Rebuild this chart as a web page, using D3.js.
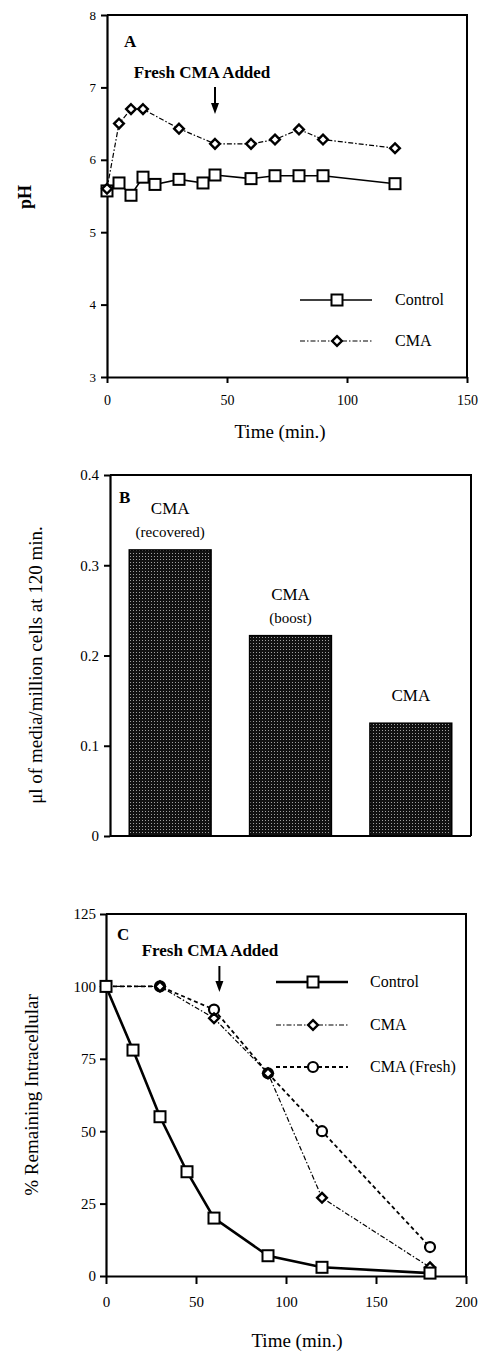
<!DOCTYPE html>
<html>
<head>
<meta charset="utf-8">
<script src="https://cdn.jsdelivr.net/npm/d3@7"></script>
<style>
  body { margin: 0; background: #fff; }
  svg text { font-family: "Liberation Serif", "DejaVu Serif", serif; fill: #000; }
</style>
</head>
<body>
<div id="chart"></div>
<script>
// Panel A : pH over time
var timeCtrlA = [0, 5, 10, 15, 20, 30, 40, 45, 60, 70, 80, 90, 120];
var phControl = [5.57, 5.68, 5.51, 5.76, 5.66, 5.73, 5.68, 5.79, 5.74, 5.78, 5.78, 5.78, 5.67];
var timeCmaA = [0, 5, 10, 15, 30, 45, 60, 70, 80, 90, 120];
var phCma = [5.6, 6.5, 6.7, 6.7, 6.43, 6.22, 6.22, 6.28, 6.42, 6.28, 6.16];
var ticksXA = [0, 50, 100, 150];
var ticksYA = [3, 4, 5, 6, 7, 8];
var arrowTimeA = 45;

// Panel B : media uptake at 120 min
var barNames = ["CMA", "CMA", "CMA"];
var barSubs = ["(recovered)", "(boost)", ""];
var barValues = [0.317, 0.222, 0.125];
var ticksYB = [0, 0.1, 0.2, 0.3, 0.4];

// Panel C : % remaining intracellular
var timeCtrlC = [0, 15, 30, 45, 60, 90, 120, 180];
var pctControl = [100, 78, 55, 36, 20, 7, 3, 1];
var timeCmaC = [0, 30, 60, 90, 120, 180];
var pctCma = [100, 100, 89, 70, 27, 3];
var pctFresh = [100, 100, 92, 70, 50, 10];
var ticksXC = [0, 50, 100, 150, 200];
var ticksYC = [0, 25, 50, 75, 100, 125];
var arrowTimeC = 63;

const svg = d3.select("#chart")
  .append("svg")
  .attr("width", 482)
  .attr("height", 1352);

// dotted dark fill for the bars
const pat = svg.append("defs").append("pattern")
  .attr("id", "stipple")
  .attr("width", 3).attr("height", 3)
  .attr("patternUnits", "userSpaceOnUse");
pat.append("rect").attr("width", 3).attr("height", 3).attr("fill", "#111");
pat.append("rect").attr("x", 1).attr("y", 1).attr("width", 1).attr("height", 1).attr("fill", "#a0a0a0");

function drawMarker(g, shape, x, y) {
  if (shape == "square") {
    g.append("rect").attr("x", x - 5.5).attr("y", y - 5.5).attr("width", 11).attr("height", 11)
      .attr("fill", "#fff").attr("stroke", "#000").attr("stroke-width", 2);
  } else if (shape == "diamond") {
    g.append("path").attr("d", d3.symbol().type(d3.symbolDiamond2).size(60)())
      .attr("transform", `translate(${x},${y})`)
      .attr("fill", "#fff").attr("stroke", "#000").attr("stroke-width", 2.4);
  } else {
    g.append("circle").attr("cx", x).attr("cy", y).attr("r", 5)
      .attr("fill", "#fff").attr("stroke", "#000").attr("stroke-width", 2.2);
  }
}

function drawSeries(g, xs, ys, x, y, shape, style) {
  const pts = xs.map((t, i) => [x(t), y(ys[i])]);
  g.append("path")
    .attr("d", d3.line()(pts))
    .attr("fill", "none")
    .attr("stroke", "#000")
    .attr("stroke-width", style.width)
    .attr("stroke-dasharray", style.dash);
  pts.forEach(p => drawMarker(g, shape, p[0], p[1]));
}

function drawArrow(g, x, y1, y2) {
  g.append("line").attr("x1", x).attr("x2", x).attr("y1", y1).attr("y2", y2 - 8)
    .attr("stroke", "#000").attr("stroke-width", 2);
  g.append("path").attr("d", `M${x - 4},${y2 - 11} L${x + 4},${y2 - 11} L${x},${y2} Z`).attr("fill", "#000");
}

function drawLegend(g, items, x1, x2, xm, xt) {
  items.forEach(it => {
    g.append("line").attr("x1", x1).attr("x2", x2).attr("y1", it.y).attr("y2", it.y)
      .attr("stroke", "#000").attr("stroke-width", it.style.width).attr("stroke-dasharray", it.style.dash);
    drawMarker(g, it.shape, xm, it.y);
    g.append("text").attr("x", xt).attr("y", it.y + 5).style("font-size", "16px").text(it.label);
  });
}

function styleAxis(ax, size) {
  ax.attr("font-family", "Liberation Serif");
  ax.select(".domain").attr("stroke-width", 2.2);
  ax.selectAll(".tick line").attr("stroke-width", 2);
  ax.selectAll(".tick text").style("font-size", size).attr("fill", "#000");
}

function frame(g, x, y) {
  g.append("path")
    .attr("d", `M${x.range()[0]},${y.range()[1]} H${x.range()[1]} V${y.range()[0]}`)
    .attr("fill", "none").attr("stroke", "#000").attr("stroke-width", 2);
}

const solid = {width: 1.6, dash: null};
const dashDotThin = {width: 1.2, dash: "5,2,1.5,2"};

// ---------- Panel A ----------
const gA = svg.append("g");
const xA = d3.scaleLinear().domain([0, 150]).range([107, 467]);
const yA = d3.scaleLinear().domain([3, 8]).range([377, 15]);

frame(gA, xA, yA);
styleAxis(gA.append("g").attr("transform", "translate(0,377)")
  .call(d3.axisBottom(xA).tickValues(ticksXA).tickSize(6).tickSizeOuter(0).tickPadding(12)), "14px");
styleAxis(gA.append("g").attr("transform", "translate(107,0)")
  .call(d3.axisLeft(yA).tickValues(ticksYA).tickSize(6).tickSizeOuter(0).tickPadding(5).tickFormat(d3.format("d"))), "13px");

drawSeries(gA, timeCtrlA, phControl, xA, yA, "square", solid);
drawSeries(gA, timeCmaA, phCma, xA, yA, "diamond", dashDotThin);

gA.append("text").attr("x", 124).attr("y", 47).style("font-size", "17px").style("font-weight", "bold").text("A");
gA.append("text").attr("x", 202).attr("y", 78).attr("text-anchor", "middle")
  .style("font-size", "17px").style("font-weight", "bold").text("Fresh CMA Added");
drawArrow(gA, xA(arrowTimeA), 87, 114);

drawLegend(gA, [
  {y: 300, shape: "square", style: solid, label: "Control"},
  {y: 341, shape: "diamond", style: dashDotThin, label: "CMA"}
], 300, 372, 337, 395);

gA.append("text").attr("transform", "translate(31,197) rotate(-90)").attr("text-anchor", "middle")
  .style("font-size", "18px").style("font-weight", "bold").text("pH");
gA.append("text").attr("x", 280).attr("y", 438).attr("text-anchor", "middle")
  .style("font-size", "19px").text("Time (min.)");

// ---------- Panel B ----------
const gB = svg.append("g");
const xB = d3.scaleBand().domain(d3.range(barValues.length)).range([110, 471]).paddingInner(0.32).paddingOuter(0.16);
const yB = d3.scaleLinear().domain([0, 0.4]).range([836, 475]);

gB.selectAll("rect.bar")
  .data(barValues)
  .join("rect")
  .attr("class", "bar")
  .attr("x", (d, i) => xB(i))
  .attr("width", xB.bandwidth())
  .attr("y", d => yB(d))
  .attr("height", d => yB(0) - yB(d))
  .attr("fill", "url(#stipple)")
  .attr("stroke", "#000")
  .attr("stroke-width", 1.5);

frame(gB, d3.scaleLinear().range([110, 471]), yB);
styleAxis(gB.append("g").attr("transform", "translate(110,0)")
  .call(d3.axisLeft(yB).tickValues(ticksYB).tickSize(6).tickSizeOuter(0).tickPadding(5)
    .tickFormat(d => d == 0 ? "0" : d.toFixed(1))), "15px");
gB.append("line").attr("x1", 110).attr("x2", 471).attr("y1", 836).attr("y2", 836)
  .attr("stroke", "#000").attr("stroke-width", 2.2);

barValues.forEach((v, i) => {
  const cx = xB(i) + xB.bandwidth() / 2;
  const top = yB(v);
  const hasSub = barSubs[i] != "";
  gB.append("text").attr("x", cx).attr("y", top - (hasSub ? 36 : 22)).attr("text-anchor", "middle")
    .style("font-size", "17px").text(barNames[i]);
  if (hasSub) {
    gB.append("text").attr("x", cx).attr("y", top - 13).attr("text-anchor", "middle")
      .style("font-size", "15px").text(barSubs[i]);
  }
});

gB.append("text").attr("x", 119).attr("y", 503).style("font-size", "17px").style("font-weight", "bold").text("B");
gB.append("text").attr("transform", "translate(42,665) rotate(-90)").attr("text-anchor", "middle")
  .style("font-size", "19px").text("μl of media/million cells at 120 min.");

// ---------- Panel C ----------
const gC = svg.append("g");
const xC = d3.scaleLinear().domain([0, 200]).range([106, 466]);
const yC = d3.scaleLinear().domain([0, 125]).range([1276, 914]);

const thick = {width: 2.6, dash: null};
const dashFresh = {width: 1.8, dash: "4,3"};

frame(gC, xC, yC);
styleAxis(gC.append("g").attr("transform", "translate(0,1276)")
  .call(d3.axisBottom(xC).tickValues(ticksXC).tickSize(8).tickSizeOuter(0).tickPadding(12)), "15px");
styleAxis(gC.append("g").attr("transform", "translate(106,0)")
  .call(d3.axisLeft(yC).tickValues(ticksYC).tickSize(6).tickSizeOuter(0).tickPadding(4)), "15px");

drawSeries(gC, timeCmaC, pctFresh, xC, yC, "circle", dashFresh);
drawSeries(gC, timeCmaC, pctCma, xC, yC, "diamond", dashDotThin);
drawSeries(gC, timeCtrlC, pctControl, xC, yC, "square", thick);

gC.append("text").attr("x", 117).attr("y", 940).style("font-size", "17px").style("font-weight", "bold").text("C");
gC.append("text").attr("x", 210).attr("y", 956).attr("text-anchor", "middle")
  .style("font-size", "17px").style("font-weight", "bold").text("Fresh CMA Added");
drawArrow(gC, xC(arrowTimeC), 966, 992);

drawLegend(gC, [
  {y: 982, shape: "square", style: thick, label: "Control"},
  {y: 1025, shape: "diamond", style: dashDotThin, label: "CMA"},
  {y: 1067, shape: "circle", style: dashFresh, label: "CMA (Fresh)"}
], 276, 348, 313, 370);

gC.append("text").attr("transform", "translate(38,1095) rotate(-90)").attr("text-anchor", "middle")
  .style("font-size", "19px").text("% Remaining Intracellular");
gC.append("text").attr("x", 297).attr("y", 1347).attr("text-anchor", "middle")
  .style("font-size", "19px").text("Time (min.)");
</script>
</body>
</html>
